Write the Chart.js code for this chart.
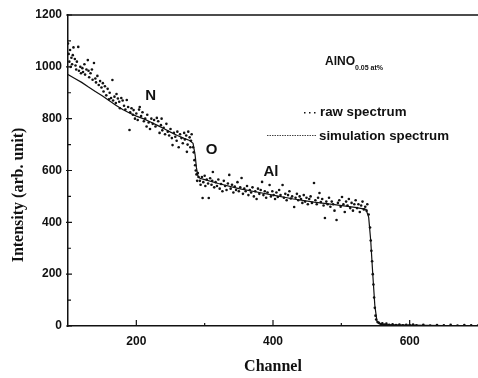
<!DOCTYPE html>
<html>
<head>
<meta charset="utf-8">
<script src="https://cdn.jsdelivr.net/npm/chart.js@4/dist/chart.umd.min.js"></script>
<style>
  html, body { margin: 0; padding: 0; background: #fff; }
  #wrap { width: 478px; height: 378px; }
</style>
</head>
<body>
<div id="wrap"><canvas id="chart" width="478" height="378"></canvas></div>
<script>
// simulation spectrum (channel, counts)
const simChannel = [100, 110, 120, 130, 140, 150, 160, 170, 180, 190, 200, 210, 220, 230, 240, 250, 260, 270, 278, 283,
  286, 288, 290, 293, 300, 320, 350, 380, 400, 430, 460, 490, 520, 536, 540, 543, 546, 549, 552, 556, 560, 580, 600, 650, 700];
const simCounts = [970, 955, 940, 922, 905, 888, 870, 852, 835, 822, 810, 800, 788, 775, 762, 748, 735, 724, 716, 705,
  660, 610, 580, 570, 565, 550, 530, 515, 505, 490, 478, 468, 458, 450, 420, 330, 200, 80, 20, 8, 5, 4, 3, 2, 2];

// raw spectrum, [channel, counts]
const rawPoints = [
  // N edge region
  [100, 1090], [101, 1050], [102, 1020], [103, 1065], [104, 1000], [105, 1035], [106, 1010], [107, 1045], [108, 1075],
  [110, 1030], [111, 1005], [112, 990], [113, 1020], [115, 1077], [116, 985], [118, 1000], [119, 975], [121, 995],
  [122, 980], [124, 1010], [125, 970], [127, 990], [129, 1026], [130, 985], [131, 960], [133, 975], [135, 990],
  [136, 950], [138, 1015], [140, 955], [141, 940], [143, 965], [145, 930], [147, 945], [149, 920], [151, 937],
  [152, 905], [154, 925], [156, 890], [158, 915], [160, 875], [161, 900], [163, 880], [165, 949], [166, 870],
  [168, 885], [170, 860], [171, 895], [173, 878], [175, 865], [176, 840], [178, 880], [180, 870], [182, 850],
  [184, 835], [186, 872], [188, 845], [190, 756], [191, 825], [193, 840], [195, 815], [196, 833], [198, 800],
  [200, 820], [202, 795], [204, 835], [205, 845], [207, 810], [209, 825], [211, 790], [213, 800], [215, 770],
  [216, 815], [218, 785], [220, 760], [222, 800], [224, 780], [226, 795], [228, 770], [230, 803], [232, 790],
  [234, 745], [236, 775], [237, 800], [238, 755], [240, 765], [242, 740], [244, 780], [246, 750], [248, 735],
  [250, 760], [252, 725], [253, 698], [255, 745], [257, 730], [259, 715], [260, 750], [262, 690], [264, 740],
  [266, 725], [268, 705], [270, 745], [271, 720], [273, 735], [274, 672], [275, 700], [276, 750], [278, 728],
  [279, 690], [280, 715], [281, 740],
  // O edge
  [283, 690], [284, 670], [285, 640], [286, 620], [287, 600], [288, 585], [289, 560], [290, 590], [291, 575],
  // Al plateau
  [293, 560], [294, 545], [296, 575], [297, 494], [298, 555], [300, 580], [301, 540], [303, 565], [305, 550],
  [306, 494], [308, 570], [310, 545], [311, 560], [312, 594], [314, 535], [316, 555], [318, 540], [320, 565],
  [322, 530], [324, 548], [326, 520], [328, 560], [330, 540], [332, 525], [334, 550], [336, 583], [338, 530],
  [340, 545], [342, 515], [344, 538], [346, 525], [348, 555], [350, 520], [352, 535], [354, 571], [356, 510],
  [358, 530], [360, 520], [362, 540], [364, 505], [366, 525], [368, 515], [370, 535], [372, 500], [374, 520],
  [376, 490], [378, 530], [380, 510], [382, 525], [384, 556], [386, 505], [388, 520], [390, 495], [392, 515],
  [395, 544], [397, 500], [399, 520], [401, 505], [403, 490], [405, 515], [407, 498], [409, 525], [411, 505],
  [414, 544], [416, 495], [418, 510], [420, 485], [422, 505], [424, 520], [426, 492], [428, 500], [431, 459],
  [433, 495], [435, 510], [437, 485], [439, 500], [441, 490], [443, 475], [445, 505], [447, 480], [449, 495],
  [451, 470], [453, 490], [455, 500], [457, 475], [460, 552], [462, 485], [464, 470], [466, 495], [468, 513],
  [470, 478], [472, 490], [474, 465], [476, 417], [478, 480], [480, 470], [482, 495], [484, 460], [486, 480],
  [488, 470], [490, 445], [493, 409], [495, 475], [497, 485], [499, 460], [501, 498], [503, 470], [505, 440],
  [507, 480], [509, 465], [511, 490], [513, 455], [515, 475], [517, 445], [519, 470], [521, 485], [523, 455],
  [525, 470], [527, 440], [529, 465], [531, 480], [533, 450], [535, 460], [537, 445], [538, 470],
  // back edge
  [540, 430], [542, 380], [543, 330], [544, 290], [545, 250], [546, 200], [547, 160], [548, 110], [549, 70],
  [550, 40], [551, 25], [553, 15],
  // background
  [555, 12], [558, 8], [560, 10], [563, 6], [566, 9], [570, 5], [575, 7], [580, 4], [585, 6], [590, 3], [595, 5],
  [600, 4], [605, 6], [610, 3], [620, 5], [630, 2], [640, 4], [650, 3], [660, 5], [670, 2], [680, 4], [690, 3], [700, 2]
];

const xTicks = [200, 400, 600];
const xMinor = [300, 500];
const yTicks = [0, 200, 400, 600, 800, 1000, 1200];
const yMinor = [100, 300, 500, 700, 900, 1100];

const peakLabels = [
  { text: 'N', channel: 221, counts: 888 },
  { text: 'O', channel: 310, counts: 679 },
  { text: 'Al', channel: 397, counts: 594 }
];

const SANS = '"Liberation Sans", Arial, sans-serif';
const SERIF = '"Liberation Serif", "Times New Roman", serif';

const decor = {
  id: 'decor',
  afterDraw(chart) {
    const { ctx, chartArea: a, scales: { x, y } } = chart;
    ctx.save();
    ctx.strokeStyle = '#111';
    ctx.lineWidth = 1.5;
    // top frame line
    ctx.beginPath();
    ctx.moveTo(a.left, a.top);
    ctx.lineTo(a.right, a.top);
    ctx.stroke();
    // inward ticks
    ctx.lineWidth = 1.2;
    ctx.beginPath();
    xTicks.forEach(v => { const p = x.getPixelForValue(v); ctx.moveTo(p, a.bottom); ctx.lineTo(p, a.bottom - 6); });
    xMinor.forEach(v => { const p = x.getPixelForValue(v); ctx.moveTo(p, a.bottom); ctx.lineTo(p, a.bottom - 3); });
    yTicks.forEach(v => { const p = y.getPixelForValue(v); ctx.moveTo(a.left - 2, p); ctx.lineTo(a.left + 4, p); });
    yMinor.forEach(v => { const p = y.getPixelForValue(v); ctx.moveTo(a.left, p); ctx.lineTo(a.left + 3, p); });
    ctx.stroke();

    // axis titles
    ctx.fillStyle = '#111';
    ctx.font = 'bold 16px ' + SERIF;
    ctx.textAlign = 'center';
    ctx.textBaseline = 'middle';
    ctx.fillText('Channel', (a.left + a.right) / 2, 367);
    ctx.save();
    ctx.translate(19, 195);
    ctx.rotate(-Math.PI / 2);
    ctx.fillText('Intensity (arb. unit)', 0, 0);
    ctx.restore();

    // peak labels
    ctx.font = 'bold 15px ' + SANS;
    peakLabels.forEach(l => ctx.fillText(l.text, x.getPixelForValue(l.channel), y.getPixelForValue(l.counts)));

    // sample name
    ctx.textAlign = 'left';
    ctx.font = 'bold 12px ' + SANS;
    ctx.fillText('AlNO', 325, 62);
    const w = ctx.measureText('AlNO').width;
    ctx.font = 'bold 7px ' + SANS;
    ctx.fillText('0.05 at%', 325 + w, 68);

    // legend
    ctx.font = 'bold 13.3px ' + SANS;
    ctx.fillText('raw spectrum', 320, 112);
    ctx.fillText('simulation spectrum', 319, 136);
    [304, 309, 314].forEach(px => ctx.fillRect(px, 112, 1.5, 1.5));
    ctx.strokeStyle = '#444';
    ctx.lineWidth = 1;
    ctx.setLineDash([1.5, 1]);
    ctx.beginPath();
    ctx.moveTo(267, 135.5);
    ctx.lineTo(317, 135.5);
    ctx.stroke();
    ctx.restore();
  }
};

const plainLabel = v => String(v);

new Chart(document.getElementById('chart'), {
  type: 'scatter',
  data: {
    datasets: [
      {
        label: 'raw spectrum',
        data: rawPoints.map(([c, n]) => ({ x: c, y: n })),
        pointRadius: 1.3,
        pointBorderWidth: 0,
        pointBackgroundColor: '#111',
        showLine: false
      },
      {
        label: 'simulation spectrum',
        data: simChannel.map((c, i) => ({ x: c, y: simCounts[i] })),
        showLine: true,
        borderColor: '#111',
        borderWidth: 1.2,
        pointRadius: 0,
        tension: 0
      }
    ]
  },
  plugins: [decor],
  options: {
    responsive: false,
    animation: false,
    layout: { autoPadding: false, padding: { top: 15, right: 0, left: 0, bottom: 0 } },
    plugins: { legend: { display: false }, tooltip: { enabled: false } },
    scales: {
      x: {
        type: 'linear',
        min: 100,
        max: 700,
        afterBuildTicks: s => { s.ticks = xTicks.map(v => ({ value: v })); },
        afterFit: s => { s.height = 52; },
        grid: { display: false, drawTicks: false },
        border: { display: true, color: '#111', width: 1.5 },
        ticks: { padding: 8, color: '#111', callback: plainLabel, font: { family: SANS, size: 12, weight: 'bold' } }
      },
      y: {
        min: 0,
        max: 1200,
        afterBuildTicks: s => { s.ticks = yTicks.map(v => ({ value: v })); },
        afterFit: s => { s.width = 68; },
        grid: { display: false, drawTicks: false },
        border: { display: true, color: '#111', width: 1.5 },
        ticks: { padding: 6, color: '#111', callback: plainLabel, font: { family: SANS, size: 12, weight: 'bold' } }
      }
    }
  }
});
</script>
</body>
</html>
